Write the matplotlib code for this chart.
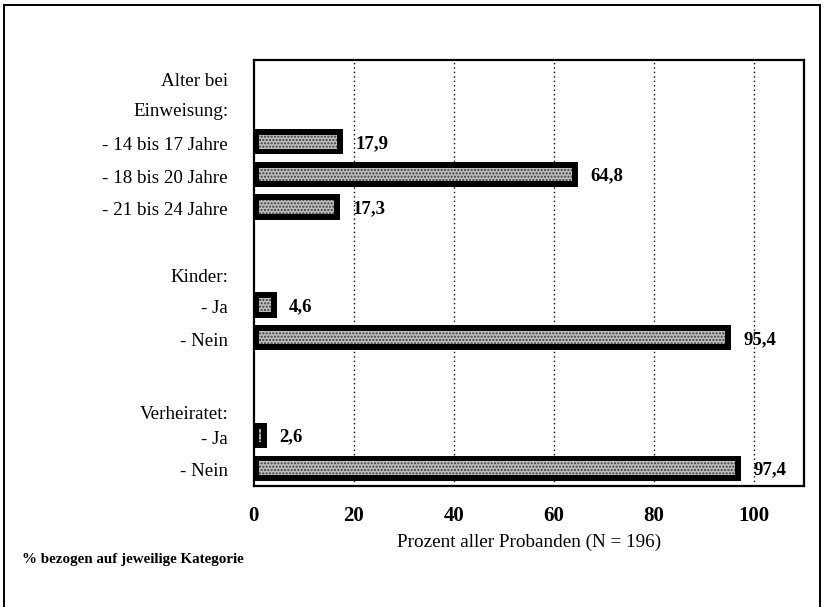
import matplotlib
matplotlib.use("Agg")
import matplotlib.pyplot as plt
from matplotlib.patches import Rectangle

plt.rcParams['font.family'] = ['Liberation Serif', 'DejaVu Serif']

# Anteile in Prozent je Kategorie (N = 196)
headers = ["Alter bei", "Einweisung:", "Kinder:", "Verheiratet:"]
categories = ["- 14 bis 17 Jahre", "- 18 bis 20 Jahre", "- 21 bis 24 Jahre",
              "- Ja", "- Nein",
              "- Ja", "- Nein"]
values = [17.9, 64.8, 17.3, 4.6, 95.4, 2.6, 97.4]
xticks = [0, 20, 40, 60, 80, 100]

# row layout (top to bottom, axis inverted)
bar_pos = [2.5, 3.5, 4.5, 7.5, 8.5, 11.5, 12.5]
header_pos = [0.6, 1.5, 6.6, 10.8]
bar_h = 0.78

fig = plt.figure(figsize=(8.24, 6.07), dpi=100)
ax = fig.add_axes([0.308, 0.199, 0.668, 0.702])

# dotted vertical grid behind the bars
for x in xticks[1:]:
    ax.axvline(x, color='black', linestyle=(0, (1, 2.2)), linewidth=1.0, zorder=0)

# black frame bars with a speckled grey inside
ax.barh(bar_pos, values, height=bar_h, color='black', zorder=2)
inner = [max(v - 2.2, 0) for v in values]
ax.barh(bar_pos, inner, left=1.0, height=bar_h - 0.36, color='#bdbdbd',
        hatch='.....', edgecolor='#3a3a3a', linewidth=0, zorder=3)

for y, v in zip(bar_pos, values):
    ax.text(v + 2.4, y + 0.05, f"{v:.1f}".replace('.', ','), ha='left', va='center',
            fontsize=13.5, fontweight='bold', zorder=4)

ax.set_xlim(0, 110)
ax.set_ylim(13.05, 0)
ax.set_xticks(xticks)
ax.set_xticklabels([str(t) for t in xticks], fontsize=15, fontweight='bold')
ax.tick_params(axis='x', length=0, pad=14)

ax.set_yticks(header_pos + [p + 0.05 for p in bar_pos])
ax.set_yticklabels(headers + categories, fontsize=13.7)
ax.tick_params(axis='y', length=0, pad=18.5)

ax.set_xlabel("Prozent aller Probanden (N = 196)", fontsize=13.8, labelpad=6)

for s in ax.spines.values():
    s.set_linewidth(1.6)

fig.text(22 / 824, 1 - 560 / 607, "% bezogen auf jeweilige Kategorie",
         fontsize=10.8, fontweight='bold', ha='left', va='center')

# outer frame around the whole chart
fig.patches.append(Rectangle((4 / 824, -0.02), 816 / 824, 1.02 - 5 / 607,
                             transform=fig.transFigure, fill=False,
                             edgecolor='black', linewidth=1.4))

fig.savefig("out.png", dpi=100)
